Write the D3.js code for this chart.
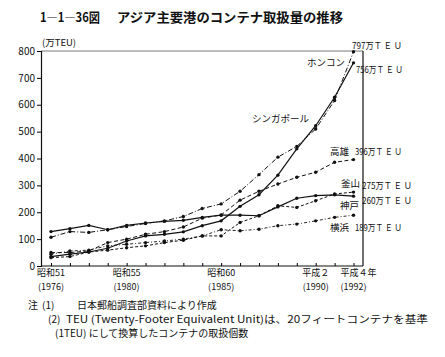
<!DOCTYPE html>
<html><head><meta charset="utf-8">
<script src="https://cdn.jsdelivr.net/npm/d3@7"></script>
<style>
body{margin:0;background:#fff;}
text{font-family:"Noto Sans CJK JP","Noto Sans",sans-serif;fill:#111;}
</style></head>
<body><svg id="c" width="445" height="357"></svg>
<script>
const years = [1976,1977,1978,1979,1980,1981,1982,1983,1984,1985,1986,1987,1988,1989,1990,1991,1992];
const hongkong  = [107,128,125,135,147,158,168,184,214,231,278,340,405,445,510,616,797];
const singapore = [35,44,52,66,93,112,118,127,150,168,222,265,338,436,522,628,756];
const kaohsiung = [50,50,56,87,100,118,128,145,178,190,245,278,305,330,349,386,396];
const busan     = [31,35,52,59,68,75,87,96,112,112,162,187,224,218,243,268,275];
const kobe      = [128,139,151,135,151,160,166,170,181,189,189,187,220,252,262,265,260];
const yokohama  = [44,56,59,75,81,87,93,100,112,135,131,137,150,156,168,181,189];
const yTicks = [0,100,200,300,400,500,600,700,800];
const xLabels = [{y:1976,a:"昭和51",b:"(1976)"},{y:1980,a:"昭和55",b:"(1980)"},{y:1985,a:"昭和60",b:"(1985)"},{y:1990,a:"平成２",b:"(1990)"},{y:1992,a:"平成４年",b:"(1992)"}];

const svg = d3.select("#c");
const x = d3.scaleLinear().domain([1976,1992]).range([51,353.5]);
const y = d3.scaleLinear().domain([0,800]).range([266,51]);

// title
svg.append("text").attr("x",40).attr("y",22).attr("font-size",13).attr("font-weight","bold")
  .attr("textLength",60).attr("lengthAdjust","spacingAndGlyphs").text("1―1―36図");
svg.append("text").attr("x",117).attr("y",22).attr("font-size",13).attr("font-weight","bold")
  .attr("textLength",226).attr("lengthAdjust","spacingAndGlyphs").text("アジア主要港のコンテナ取扱量の推移");

// frame
svg.append("line").attr("x1",41).attr("x2",363).attr("y1",51).attr("y2",51).attr("stroke","#555").attr("stroke-width",0.8);
svg.append("line").attr("x1",363).attr("x2",363).attr("y1",51).attr("y2",266).attr("stroke","#111").attr("stroke-width",1.2);

// y axis
const ya = svg.append("g").attr("transform","translate(41,0)")
  .call(d3.axisLeft(y).tickValues(yTicks).tickSize(4).tickPadding(2));
ya.select(".domain").attr("stroke","#111").attr("stroke-width",1.2);
ya.selectAll("text").attr("font-size",10).attr("font-family","'Liberation Sans Narrow','Liberation Sans',sans-serif");
// x axis
const xa = svg.append("g").attr("transform","translate(0,266)")
  .call(d3.axisBottom(x).tickValues(years).tickSize(-3).tickFormat(""));
xa.select(".domain").attr("d","M41,0H363").attr("stroke","#111").attr("stroke-width",1.2);

svg.append("text").attr("x",42).attr("y",46).attr("font-size",9.5).text("(万TEU)");

xLabels.forEach(d=>{
  svg.append("text").attr("x",x(d.y)+(d.y===1992?5:0)).attr("y",276).attr("font-size",9).attr("text-anchor","middle").text(d.a);
  svg.append("text").attr("x",x(d.y)).attr("y",290).attr("font-size",9).attr("text-anchor","middle").text(d.b);
});

const series = [
  {v:hongkong, dash:"5,2,1,2", w:1},
  {v:singapore, dash:null, w:1.2},
  {v:kaohsiung, dash:"4,2.5", w:1},
  {v:busan, dash:"3,2", w:1},
  {v:kobe, dash:null, w:1.2},
  {v:yokohama, dash:"3,2,1,2", w:0.9}
];
const line = d3.line().x((d,i)=>x(years[i])).y(d=>y(d));
series.forEach(s=>{
  svg.append("path").attr("d",line(s.v)).attr("fill","none").attr("stroke","#111")
    .attr("stroke-width",s.w).attr("stroke-dasharray",s.dash);
  svg.selectAll(null).data(s.v).enter().append("circle")
    .attr("cx",(d,i)=>x(years[i])).attr("cy",d=>y(d)).attr("r",1.7).attr("fill","#111");
});

// labels
const lab = (t,xx,yy,fs,tl)=>{const e=svg.append("text").attr("x",xx).attr("y",yy).attr("font-size",fs||9).text(t); if(tl) e.attr("textLength",tl).attr("lengthAdjust","spacingAndGlyphs"); return e;};
lab("797万Ｔ Ｅ Ｕ",352,49,9,50);
lab("ホンコン",307,66,9.5);
lab("756万Ｔ Ｅ Ｕ",356,73,9,47);
lab("シンガポール",252,122,9.5);
lab("高雄",330,155,9.5);
lab("396万Ｔ Ｅ Ｕ",355,155,9,47);
lab("釜山",341,187,9.5);
lab("275万Ｔ Ｅ Ｕ",362,189,9,50);
lab("神戸",340,209,9.5);
lab("260万Ｔ Ｅ Ｕ",362,204,9,50);
lab("横浜",330,231,9.5);
lab("189万Ｔ Ｅ Ｕ",355,231,9,47);

// notes
lab("注",28,309,10);
lab("(1)",42,309,10);
lab("日本郵船調査部資料により作成",77,309,10);
lab("(2)",48,323,10);
lab("TEU (Twenty-Footer Equivalent Unit)は、20フィートコンテナを基準",66,323,10,362);
lab("(1TEU) にして換算したコンテナの取扱個数",55,337,10);
</script></body></html>
